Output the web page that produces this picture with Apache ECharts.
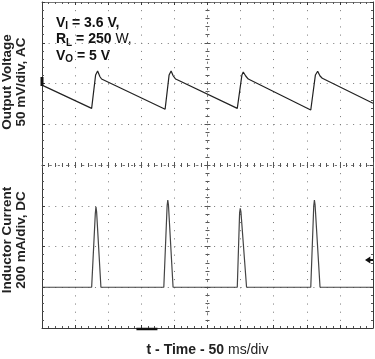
<!DOCTYPE html>
<html><head><meta charset="utf-8">
<script src="https://cdn.jsdelivr.net/npm/echarts@6/dist/echarts.min.js"></script>
<style>html,body{margin:0;padding:0;background:#fff}#c{width:375px;height:359px}</style>
</head><body><div id="c"></div>
<script>
// Output voltage (AC, mV relative to channel-1 ground marker) vs time (µs)
const voltageTimeUs = [0, 75, 81, 84, 87.6, 90, 186, 192, 195, 198.3, 201.9, 295, 302, 304, 307.7, 311.6, 406, 413, 416.4, 420, 423.4, 500];
const voltageMv     = [-2, -30.5, 10.5, 15.4, 8.3, 5.5, -31.5, 10.5, 15.4, 9.2, 5.5, -30.5, 10.5, 14.1, 9.2, 5.5, -32.5, 10.5, 15, 9.2, 6.4, -24.3];
// Inductor current (mA, DC) vs time (µs)
const currentTimeUs = [0, 75, 80.5, 81.5, 82.5, 89, 184, 189, 190, 191, 198, 295, 298.5, 299.5, 300.5, 309, 406, 410.5, 411.5, 412.5, 420, 500];
const currentMa     = [0, 0, 360, 395, 370, 0, 0, 400, 428, 405, 0, 0, 365, 387, 370, 0, 0, 400, 428, 405, 0, 0];
// Scope settings
const timePerDivUs = 50, voltPerDivMv = 50, ampPerDivMa = 200;
const hDivs = 10, vDivs = 8;
const ch1GroundMv = 0;        // channel-1 marker level
const triggerLevelMa = 134;   // trigger arrow level
const triggerPosUs = 158.5;   // bottom trigger-position marker

const font = "'Liberation Sans', Arial, sans-serif";
const frameColor = '#3a3a3a';
const dotColor = '#777';

const vdot = [1, 7.15];
const hdot = [1, 5.62];

function frameX(pos){
  return {gridIndex:0, type:'value', min:-hDivs/2, max:hDivs/2, interval:1, position:pos,
    axisLine:{show:true, onZero:false, lineStyle:{color:pos==='top'?'#777':frameColor, width:1}},
    axisTick:{show:true, inside:true, length:3, lineStyle:{color:frameColor}},
    minorTick:{show:true, splitNumber:5, length:2, lineStyle:{color:'#555'}},
    axisLabel:{show:false},
    splitLine:{show: pos==='bottom', lineStyle:{color:dotColor, type:vdot, width:1}}};
}
function frameY(pos){
  return {gridIndex:0, type:'value', min:-vDivs/2, max:vDivs/2, interval:1, position:pos,
    axisLine:{show:true, onZero:false, lineStyle:{color:frameColor, width:1}},
    axisTick:{show:true, inside:true, length:3, lineStyle:{color:frameColor}},
    minorTick:{show:true, splitNumber:5, length:2, lineStyle:{color:'#555'}},
    axisLabel:{show:false},
    splitLine:{show: pos==='left', lineStyle:{color:dotColor, type:hdot, width:1}}};
}
function centerX(pos){
  return {gridIndex:0, type:'value', min:-hDivs/2, max:hDivs/2, interval:1, position:pos,
    axisLine:{show:true, onZero:true, onZeroAxisIndex:2, lineStyle:{color:dotColor, type:vdot.slice(), width:1}},
    axisTick:{show:true, inside:true, length:3, lineStyle:{color:'#555'}},
    minorTick:{show:true, splitNumber:5, length:2, lineStyle:{color:'#555'}},
    axisLabel:{show:false}, splitLine:{show:false}};
}
function centerY(pos){
  return {gridIndex:0, type:'value', min:-vDivs/2, max:vDivs/2, interval:1, position:pos,
    axisLine:{show:true, onZero:true, onZeroAxisIndex:1, lineStyle:{color:dotColor, width:1, type:hdot.slice()}},
    axisTick:{show:true, inside:true, length:3, lineStyle:{color:'#555'}},
    minorTick:{show:true, splitNumber:5, length:2, lineStyle:{color:'#555'}},
    axisLabel:{show:false}, splitLine:{show:false}};
}

const chart = echarts.init(document.getElementById('c'), null, {renderer:'canvas'});
chart.setOption({
  animation:false,
  backgroundColor:'#fff',
  grid:{left:42, right:2, top:2, bottom:31, containLabel:false},
  xAxis:[
    {gridIndex:0, type:'value', min:0, max:hDivs*timePerDivUs, show:false, axisLine:{onZero:false}, splitLine:{show:false}},
    frameX('bottom'), frameX('top'), centerX('bottom'), centerX('top')
  ],
  yAxis:[
    {gridIndex:0, type:'value', min:ch1GroundMv-6*voltPerDivMv, max:ch1GroundMv+2*voltPerDivMv, show:false, axisLine:{onZero:false}, splitLine:{show:false}},
    {gridIndex:0, type:'value', min:-1*ampPerDivMa, max:7*ampPerDivMa, show:false, axisLine:{onZero:false}, splitLine:{show:false}},
    frameY('left'), frameY('right'), centerY('left'), centerY('right')
  ],
  series:[
    {type:'line', xAxisIndex:0, yAxisIndex:0, showSymbol:false, symbol:'none',
     data: voltageTimeUs.map((t,i)=>[t, voltageMv[i]]),
     lineStyle:{color:'#222', width:1.2},
     markPoint:{symbol:'rect', symbolSize:[3,9], symbolOffset:[0,-2], label:{show:false},
       itemStyle:{color:'#111'}, data:[{coord:[0, ch1GroundMv]}]}},
    {type:'line', xAxisIndex:0, yAxisIndex:1, showSymbol:false, symbol:'none',
     data: currentTimeUs.map((t,i)=>[t, currentMa[i]]),
     lineStyle:{color:'#444', width:1.2},
     markPoint:{label:{show:false}, itemStyle:{color:'#111'}, data:[
       {coord:[hDivs*timePerDivUs, triggerLevelMa], symbol:'path://M0,5 L6,0 L6,3.5 L9,3.5 L9,6.5 L6,6.5 L6,10 Z', symbolSize:[8,7], symbolOffset:[-4,0]},
       {coord:[triggerPosUs, -ampPerDivMa], symbol:'rect', symbolSize:[21,2.5], symbolOffset:[0,1]}
     ]}}
  ],
  graphic:[
    {type:'text', left:56, top:16, style:{
      text:'{b|V}{s|I}{b| = 3.6 V,}\n{b|R}{s|L}{b| = 250 }{n|W,}\n{b|V}{s|O}{b| = 5 V}',
      rich:{
        b:{fontFamily:font, fontWeight:'bold', fontSize:14, lineHeight:16.5, fill:'#111'},
        n:{fontFamily:font, fontWeight:'normal', fontSize:14, lineHeight:16.5, fill:'#111'},
        s:{fontFamily:font, fontWeight:'bold', fontSize:10, lineHeight:11, verticalAlign:'bottom', fill:'#111'}
      }}},
    {type:'text', x:14.5, y:82, rotation:Math.PI/2, style:{
      text:'Output Voltage\n50 mV/div, AC', fontFamily:font, fontWeight:'bold', fontSize:13.5, lineHeight:13.5,
      fill:'#222', textAlign:'center', textVerticalAlign:'middle'}},
    {type:'text', x:14.5, y:240, rotation:Math.PI/2, style:{
      text:'Inductor Current\n200 mA/div, DC', fontFamily:font, fontWeight:'bold', fontSize:13.5, lineHeight:13.5,
      fill:'#222', textAlign:'center', textVerticalAlign:'middle'}},
    {type:'text', x:207.5, y:350, style:{
      text:'{b|t - Time - 50 }{n|ms/div}', textAlign:'center', textVerticalAlign:'middle',
      rich:{
        b:{fontFamily:font, fontWeight:'bold', fontSize:14, fill:'#222'},
        n:{fontFamily:font, fontWeight:'normal', fontSize:14, fill:'#222'}
      }}}
  ]
});
</script></body></html>
